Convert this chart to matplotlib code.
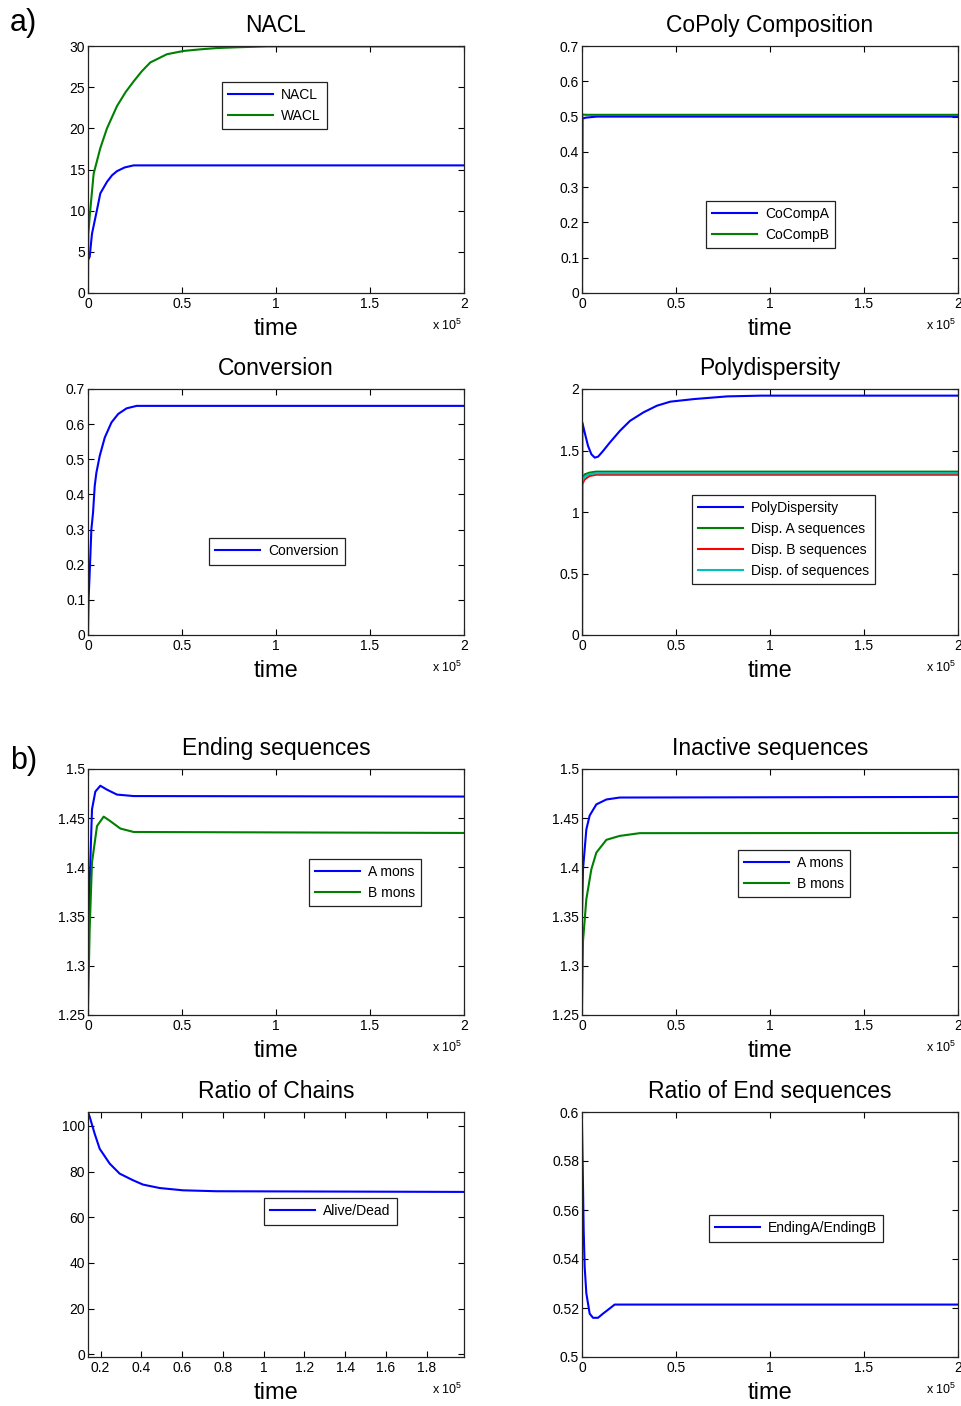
import matplotlib
matplotlib.use("Agg")
import matplotlib.pyplot as plt
from matplotlib.ticker import FuncFormatter, MultipleLocator

plt.rcParams['font.family'] = ['Liberation Sans', 'DejaVu Sans']
plt.rcParams['mathtext.fontset'] = 'custom'
plt.rcParams['mathtext.rm'] = 'Liberation Sans'
plt.rcParams['mathtext.default'] = 'regular'

BLUE = (0, 0, 1)
GREEN = (0, 0.5, 0)
RED = (1, 0, 0)
CYAN = (0, 0.75, 0.75)

# ---- data (time in seconds) ----
# NACL
t_nacl = [0, 886, 2126, 4783, 6554, 10097, 12800, 15412, 19500, 24270, 200000]
nacl = [4.0, 4.4, 7.2, 10.1, 12.1, 13.5, 14.3, 14.8, 15.25, 15.5, 15.5]
t_wacl = [0, 177, 886, 3011, 6554, 10097, 15412, 20000, 24270, 28500, 33127,
          41983, 50841, 60000, 68556, 80000, 95128, 200000]
wacl = [0, 7.2, 9.3, 14.5, 17.6, 20.0, 22.7, 24.4, 25.7, 26.9, 28.0,
        29.0, 29.4, 29.6, 29.75, 29.85, 29.95, 29.95]

# CoPoly composition
t_comp = [0, 200, 2000, 8000, 200000]
comp_a = [0, 0.494, 0.497, 0.500, 0.500]
comp_b = [0, 0.506, 0.505, 0.505, 0.505]

# Conversion
t_conv = [0, 300, 893, 1786, 2679, 3571, 4464, 6250, 8929, 12500, 16071,
          20536, 25893, 200000]
conv = [0, 0.10, 0.176, 0.30, 0.348, 0.424, 0.462, 0.51, 0.562, 0.605,
        0.629, 0.645, 0.652, 0.652]

# Polydispersity
t_pd = [0, 180, 1430, 3210, 5000, 6790, 8570, 11250, 14820, 20180, 25540,
        32680, 39820, 46960, 59460, 77300, 95180, 200000]
pd = [0, 1.728, 1.646, 1.537, 1.469, 1.442, 1.45, 1.497, 1.565, 1.66,
      1.741, 1.81, 1.864, 1.897, 1.918, 1.94, 1.946, 1.946]
t_disp = [0, 30, 1430, 4000, 7500, 200000]
disp_a = [0, 1.265, 1.306, 1.32, 1.328, 1.328]
disp_b = [0, 1.224, 1.265, 1.293, 1.303, 1.303]
disp_all = [0, 1.252, 1.287, 1.308, 1.315, 1.315]

# Ending sequences
t_end_a = [0, 354, 886, 2126, 3897, 6554, 10097, 15412, 24270, 200000]
end_a = [1.33, 1.344, 1.384, 1.459, 1.477, 1.483, 1.479, 1.474, 1.4725, 1.472]
t_end_b = [0, 50, 886, 2126, 4783, 8326, 11868, 17183, 24270, 200000]
end_b = [1.25, 1.26, 1.337, 1.405, 1.442, 1.4516, 1.447, 1.4395, 1.436, 1.435]

# Inactive sequences
t_ina_a = [0, 532, 2305, 4078, 7624, 12943, 20035, 200000]
ina_a = [1.35, 1.398, 1.4385, 1.4527, 1.464, 1.469, 1.471, 1.4716]
t_ina_b = [0, 50, 532, 2305, 4965, 7624, 12943, 20035, 30674, 200000]
ina_b = [1.25, 1.26, 1.325, 1.3676, 1.398, 1.415, 1.428, 1.432, 1.4348, 1.435]

# Ratio of chains
t_chain = [13780, 14600, 17050, 19510, 24420, 29330, 35890, 40800, 48990,
           60450, 76830, 198343]
chain = [106.1, 104, 96.6, 90, 83.5, 79.1, 76.2, 74.3, 72.8, 71.8, 71.4, 71.1]

# Ratio of end sequences
t_ratio = [0, 532, 887, 1418, 2305, 4078, 5851, 8511, 11170, 14716, 17376,
           200000]
ratio = [0.595, 0.5696, 0.5518, 0.5368, 0.526, 0.5177, 0.516, 0.516, 0.5177,
         0.5198, 0.5214, 0.5214]

W, H = 961, 1406
fig = plt.figure(figsize=(W / 100, H / 100), dpi=100)

cols = [(88, 464), (582, 958)]
rows = [(46, 293), (389, 635), (769, 1015), (1112, 1357)]


def make_ax(r, c, title):
    x0, x1 = cols[c]
    y0, y1 = rows[r]
    ax = fig.add_axes([x0 / W, 1 - y1 / H, (x1 - x0) / W, (y1 - y0) / H])
    ax.set_title(title, fontsize=16.5, pad=10)
    ax.set_xlabel('time', fontsize=17, labelpad=5)
    ax.tick_params(direction='in', top=True, right=True, length=4,
                   width=0.8, labelsize=10, pad=3)
    ax.tick_params(axis='y', pad=2)
    for s in ax.spines.values():
        s.set_linewidth(0.9)
        s.set_color('#222222')
    ax.xaxis.set_major_formatter(FuncFormatter(lambda v, p: f"{v / 1e5:g}"))
    ax.yaxis.set_major_formatter(FuncFormatter(lambda v, p: f"{v:g}"))
    ax.text(0.995, -0.1, r'x 10$^5$', transform=ax.transAxes,
            ha='right', va='top', fontsize=9)
    return ax


def leg(ax, x, y):
    lg = ax.legend(loc='upper left', bbox_to_anchor=(x / W, 1 - y / H),
                   bbox_transform=fig.transFigure, borderaxespad=0,
                   fancybox=False, framealpha=1, edgecolor='#222222',
                   fontsize=10, handlelength=3.2, handletextpad=0.6,
                   labelspacing=0.5, borderpad=0.45)
    lg.get_frame().set_linewidth(0.9)


lw = 1.5

ax = make_ax(0, 0, 'NACL')
ax.plot(t_nacl, nacl, color=BLUE, lw=lw, label='NACL')
ax.plot(t_wacl, wacl, color=GREEN, lw=lw, label='WACL')
ax.set_xlim(0, 200000)
ax.set_ylim(0, 30)
ax.xaxis.set_major_locator(MultipleLocator(50000))
ax.yaxis.set_major_locator(MultipleLocator(5))
leg(ax, 222, 82)

ax = make_ax(0, 1, 'CoPoly Composition')
ax.plot(t_comp, comp_a, color=BLUE, lw=lw, label='CoCompA')
ax.plot(t_comp, comp_b, color=GREEN, lw=lw, label='CoCompB')
ax.set_xlim(0, 200000)
ax.set_ylim(0, 0.7)
ax.xaxis.set_major_locator(MultipleLocator(50000))
ax.yaxis.set_major_locator(MultipleLocator(0.1))
leg(ax, 706, 201)

ax = make_ax(1, 0, 'Conversion')
ax.plot(t_conv, conv, color=BLUE, lw=lw, label='Conversion')
ax.set_xlim(0, 200000)
ax.set_ylim(0, 0.7)
ax.xaxis.set_major_locator(MultipleLocator(50000))
ax.yaxis.set_major_locator(MultipleLocator(0.1))
leg(ax, 209, 538)

ax = make_ax(1, 1, 'Polydispersity')
ax.plot(t_pd, pd, color=BLUE, lw=lw, label='PolyDispersity')
ax.plot(t_disp, disp_a, color=GREEN, lw=lw, label='Disp. A sequences')
ax.plot(t_disp, disp_b, color=RED, lw=lw, label='Disp. B sequences')
ax.plot(t_disp, disp_all, color=CYAN, lw=lw, label='Disp. of sequences')
ax.set_xlim(0, 200000)
ax.set_ylim(0, 2)
ax.xaxis.set_major_locator(MultipleLocator(50000))
ax.yaxis.set_major_locator(MultipleLocator(0.5))
leg(ax, 692, 495)

ax = make_ax(2, 0, 'Ending sequences')
ax.plot(t_end_a, end_a, color=BLUE, lw=lw, label='A mons')
ax.plot(t_end_b, end_b, color=GREEN, lw=lw, label='B mons')
ax.set_xlim(0, 200000)
ax.set_ylim(1.25, 1.5)
ax.xaxis.set_major_locator(MultipleLocator(50000))
ax.yaxis.set_major_locator(MultipleLocator(0.05))
leg(ax, 309, 859)

ax = make_ax(2, 1, 'Inactive sequences')
ax.plot(t_ina_a, ina_a, color=BLUE, lw=lw, label='A mons')
ax.plot(t_ina_b, ina_b, color=GREEN, lw=lw, label='B mons')
ax.set_xlim(0, 200000)
ax.set_ylim(1.25, 1.5)
ax.xaxis.set_major_locator(MultipleLocator(50000))
ax.yaxis.set_major_locator(MultipleLocator(0.05))
leg(ax, 738, 850)

ax = make_ax(3, 0, 'Ratio of Chains')
ax.plot(t_chain, chain, color=BLUE, lw=lw, label='Alive/Dead')
ax.set_xlim(13777, 198343)
ax.set_ylim(-1.2, 106.1)
ax.xaxis.set_major_locator(MultipleLocator(20000))
ax.yaxis.set_major_locator(MultipleLocator(20))
leg(ax, 264, 1198)

ax = make_ax(3, 1, 'Ratio of End sequences')
ax.plot(t_ratio, ratio, color=BLUE, lw=lw, label='EndingA/EndingB')
ax.set_xlim(0, 200000)
ax.set_ylim(0.5, 0.6)
ax.xaxis.set_major_locator(MultipleLocator(50000))
ax.yaxis.set_major_locator(MultipleLocator(0.02))
leg(ax, 709, 1215)

fig.text(10 / W, 1 - 8 / H, 'a)', fontsize=22, ha='left', va='top')
fig.text(10 / W, 1 - 746 / H, 'b)', fontsize=22, ha='left', va='top')

fig.savefig('out.png', dpi=100)
